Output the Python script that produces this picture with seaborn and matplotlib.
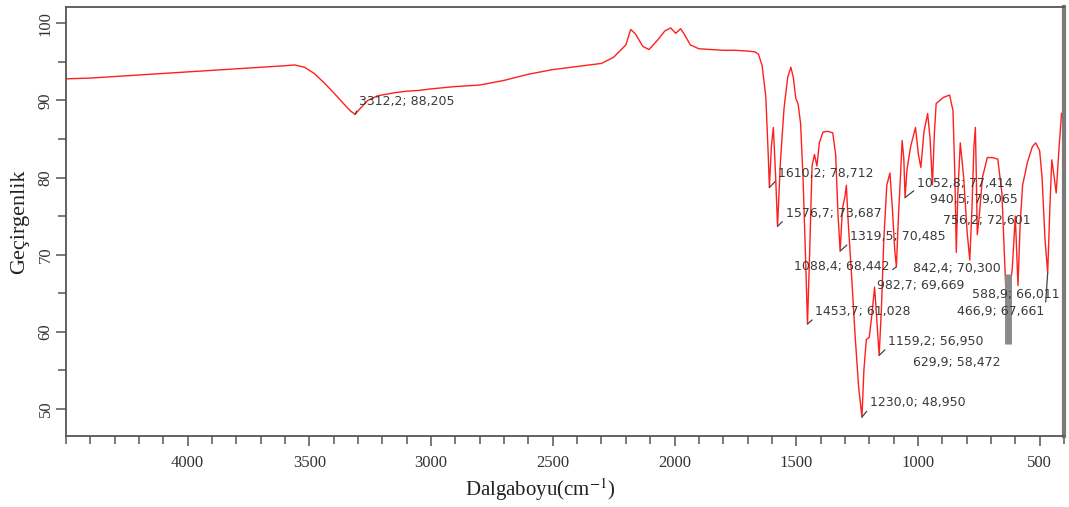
import numpy as np
import pandas as pd
import matplotlib
matplotlib.use("Agg")
import matplotlib.pyplot as plt
import seaborn as sns
from matplotlib.ticker import MultipleLocator

# ---------------- data ----------------
wavenumber = [
    4500, 4400, 4300, 4200, 4100, 4000, 3900, 3800, 3700, 3600, 3560, 3520,
    3480, 3440, 3400, 3360, 3330, 3312.2, 3290, 3260, 3220, 3150, 3100, 3050,
    3000, 2900, 2800, 2700, 2600, 2500, 2400, 2300, 2250, 2200, 2180, 2160,
    2130, 2105, 2070, 2040, 2016, 1995, 1975, 1960, 1935, 1900, 1850, 1800,
    1750, 1700, 1670, 1655, 1640, 1625, 1615, 1610.2, 1602, 1594, 1585, 1576.7,
    1565, 1550, 1535, 1522, 1512, 1502, 1492, 1482, 1472, 1462, 1453.7, 1445,
    1435, 1425, 1415, 1405, 1390, 1370, 1350, 1338, 1328, 1319.5, 1310, 1300,
    1294, 1286, 1272, 1258, 1244, 1230.0, 1222, 1212, 1200, 1190, 1178, 1170,
    1159.2, 1150, 1140, 1128, 1115, 1105, 1095, 1088.4, 1080, 1072, 1065, 1058,
    1052.8, 1045, 1030, 1010, 998, 988, 975, 960, 950, 940.5, 932, 925, 910,
    895, 870, 856, 848, 842.4, 836, 826, 812, 798, 787, 778, 770, 764, 760,
    756.2, 748, 735, 715, 695, 672, 655, 642, 629.9, 620, 612, 600, 588.9, 580,
    570, 550, 530, 516, 500, 490, 478, 466.9, 458, 450, 440, 432, 420, 410, 400,
]
transmittance = [
    92.8, 92.9, 93.1, 93.3, 93.5, 93.7, 93.9, 94.1, 94.3, 94.5, 94.6, 94.3,
    93.5, 92.3, 91.0, 89.6, 88.6, 88.205, 89.0, 90.0, 90.6, 91.0, 91.2, 91.3,
    91.5, 91.8, 92.0, 92.6, 93.4, 94.0, 94.4, 94.8, 95.6, 97.2, 99.2, 98.6,
    97.0, 96.6, 97.8, 99.0, 99.4, 98.7, 99.3, 98.6, 97.2, 96.7, 96.6, 96.5,
    96.5, 96.4, 96.3, 96.0, 94.5, 90.5, 83.0, 78.712, 84.0, 86.5, 80.5, 73.687,
    82.0, 89.0, 93.0, 94.3, 93.0, 90.3, 89.5, 87.0, 80.0, 70.0, 61.028, 70.0,
    81.5, 83.0, 81.5, 84.5, 85.9, 86.0, 85.8, 83.0, 75.0, 70.485, 76.0, 77.5,
    79.0, 74.0, 67.0, 59.5, 53.0, 48.950, 55.0, 59.0, 59.3, 62.0, 65.8, 62.0,
    56.950, 63.0, 72.0, 79.0, 80.6, 76.0, 70.5, 68.442, 75.0, 80.0, 84.8, 82.5,
    77.414, 81.0, 84.0, 86.5, 83.0, 81.3, 86.0, 88.3, 85.0, 79.065, 86.0, 89.6,
    90.0, 90.4, 90.7, 88.7, 80.0, 70.300, 78.0, 84.5, 80.0, 73.0, 69.3, 76.0,
    84.0, 86.5, 80.0, 72.601, 75.0, 80.0, 82.6, 82.6, 82.4, 78.0, 68.0, 58.472,
    66.0, 68.4, 75.0, 66.011, 74.0, 79.0, 82.0, 84.0, 84.5, 83.5, 80.0, 72.0,
    67.661, 76.0, 82.3, 80.0, 78.0, 84.0, 88.3, 88.6,
]

peak_wavenumber = [3312.2, 1610.2, 1576.7, 1319.5, 1088.4, 842.4, 982.7, 1453.7,
                   1159.2, 629.9, 1230.0, 1052.8, 940.5, 756.2, 588.9, 466.9]
peak_transmittance = [88.205, 78.712, 73.687, 70.485, 68.442, 70.300, 69.669, 61.028,
                      56.950, 58.472, 48.950, 77.414, 79.065, 72.601, 66.011, 67.661]

x_ticks = [4000, 3500, 3000, 2500, 2000, 1500, 1000, 500]
y_ticks = [50, 60, 70, 80, 90, 100]

x_label = "Dalgaboyu(cm$^{-1}$)"
y_label = "Geçirgenlik"

# ---------------- label layout (pixel offsets) ----------------
label_dx = [4, 9, 8, 10, -7, 1, -45, 8, 9, -8, 8, 12, -2, -34, -46, -3]
label_dy = [13, 14.5, 13, 14, 0, -16, -28, 12, 14, -19, 15, 14.5, -15, 14, -9, -39]
label_ha = ["left", "left", "left", "left", "right", "center", "left", "left",
            "left", "right", "left", "left", "left", "left", "left", "right"]
label_leader = [True, True, True, True, True, False, False, True,
                True, False, True, True, False, False, False, True]

# ---------------- drawing ----------------
sns.set_style("ticks")
plt.rcParams["font.family"] = ["DejaVu Sans"]
plt.rcParams["mathtext.fontset"] = "stix"

fig = plt.figure(figsize=(10.69, 5.07), dpi=100)
ax = fig.add_axes([0.0617, 0.140, 0.9336, 0.846])

df = pd.DataFrame({"wn": wavenumber, "T": transmittance})
sns.lineplot(data=df, x="wn", y="T", sort=False, estimator=None,
             color="#ff1f1f", lw=1.0, ax=ax)

# highlighted (grey) part of the 629.9 band
ax.vlines(peak_wavenumber[9], peak_transmittance[9], 67.5,
          color="#8a8a8a", lw=5, zorder=3)

ax.set_xlim(4500, 400)
ax.set_ylim(46.5, 102.1)

ax.set_xticks(x_ticks)
ax.set_yticks(y_ticks)
ax.xaxis.set_minor_locator(MultipleLocator(100))
ax.yaxis.set_minor_locator(MultipleLocator(5))
ax.tick_params(axis="both", which="major", direction="out", length=7, width=1.1,
               color="#555555", labelcolor="#333333")
ax.tick_params(axis="both", which="minor", direction="out", length=6, width=1.1,
               color="#555555")
for lab in ax.get_xticklabels():
    lab.set_fontfamily("Liberation Serif")
    lab.set_fontsize(12)
for lab in ax.get_yticklabels():
    lab.set_fontfamily("Liberation Serif")
    lab.set_fontsize(12)
    lab.set_rotation(90)
    lab.set_va("center")
ax.tick_params(axis="x", pad=7)
ax.tick_params(axis="y", pad=2)

ax.set_xlabel(x_label, fontfamily="Liberation Serif", fontsize=15,
              color="#222222")
ax.xaxis.set_label_coords(0.475, -0.095)
ax.set_ylabel(y_label, fontfamily="Liberation Serif", fontsize=16,
              color="#222222", labelpad=6)

for side in ["left", "bottom", "top"]:
    ax.spines[side].set_visible(True)
    ax.spines[side].set_color("#555555")
    ax.spines[side].set_linewidth(1.3)
ax.spines["right"].set_visible(True)
ax.spines["right"].set_color("#7a7a7a")
ax.spines["right"].set_linewidth(3)

for i, (wn, tr) in enumerate(zip(peak_wavenumber, peak_transmittance)):
    text = f"{wn:.1f}; {tr:.3f}".replace(".", ",")
    props = None
    if label_leader[i]:
        relx = 0.0 if label_ha[i] == "left" else 1.0
        props = dict(arrowstyle="-", color="#444444", lw=0.9,
                     shrinkA=0, shrinkB=0, relpos=(relx, 0.1))
    ax.annotate(text, xy=(wn, tr), xytext=(label_dx[i], label_dy[i]),
                textcoords="offset pixels", ha=label_ha[i], va="center",
                fontsize=9, color="#3a3a3a", fontfamily="DejaVu Sans",
                arrowprops=props, zorder=4)

fig.savefig("out.png", dpi=100)
